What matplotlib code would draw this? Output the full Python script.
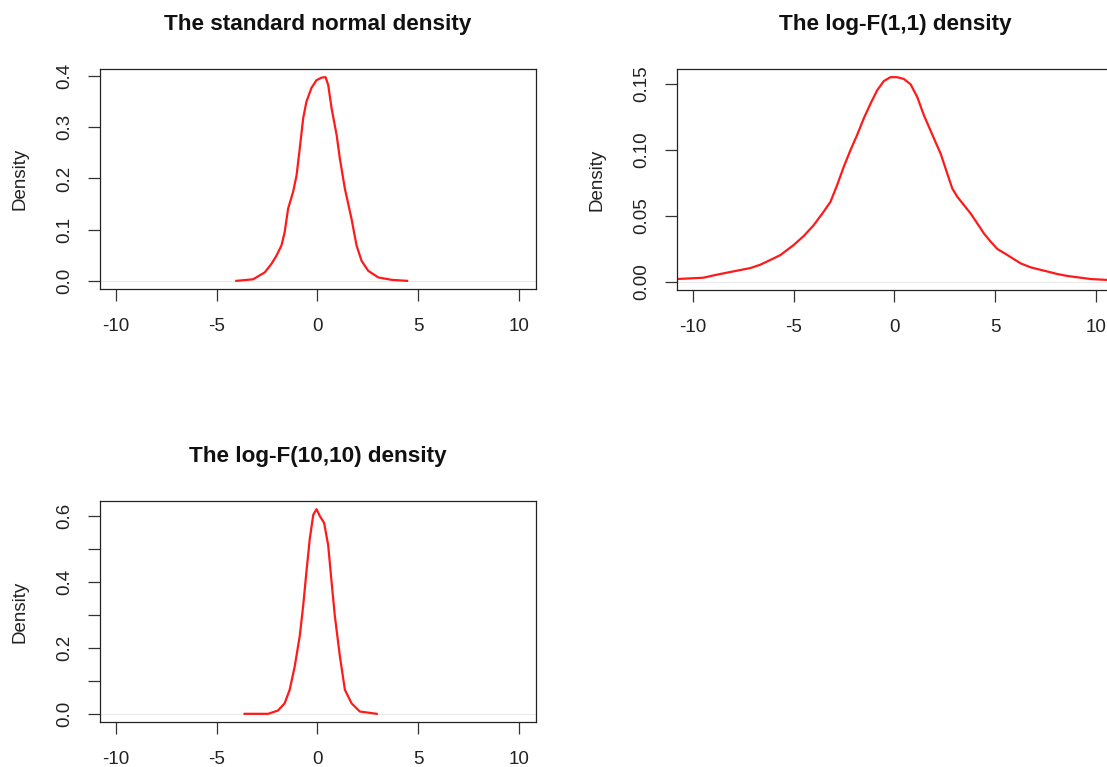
import matplotlib
matplotlib.use("Agg")
import matplotlib.pyplot as plt

plt.rcParams["font.family"] = ["Liberation Sans", "DejaVu Sans"]

# curves (x, density)
norm_x = [-4.03, -3.2, -2.62, -2.29, -2.04, -1.79, -1.63, -1.46, -1.21, -1.04,
          -0.88, -0.71, -0.55, -0.30, -0.05, 0.2, 0.4, 0.53, 0.70, 0.95,
          1.11, 1.36, 1.69, 1.94, 2.19, 2.52, 3.02, 3.68, 4.45]
norm_y = [0.0, 0.003, 0.0165, 0.033, 0.049, 0.069, 0.095, 0.141, 0.174, 0.206,
          0.259, 0.318, 0.350, 0.377, 0.392, 0.397, 0.398, 0.383, 0.337, 0.285,
          0.239, 0.180, 0.121, 0.069, 0.039, 0.0196, 0.0067, 0.002, 0.0]

logf1_x = [-10.81, -10.15, -9.49, -8.91, -8.33, -7.66, -7.16, -6.67, -6.17, -5.67,
           -5.01, -4.51, -4.01, -3.52, -3.18, -2.85, -2.52, -2.19, -1.86, -1.53,
           -1.19, -0.86, -0.53, -0.20, 0.13, 0.46, 0.80, 1.13, 1.46, 1.96,
           2.29, 2.62, 2.87, 3.12, 3.45, 3.78, 4.11, 4.44, 4.78, 5.11,
           5.61, 6.27, 6.77, 7.43, 8.09, 8.59, 9.25, 9.75, 10.6, 10.9]
logf1_y = [0.0021, 0.0026, 0.0031, 0.0051, 0.0069, 0.0089, 0.0104, 0.0129, 0.0165, 0.0202,
           0.0278, 0.0346, 0.0429, 0.053, 0.0605, 0.0731, 0.087, 0.0995, 0.1109, 0.1235,
           0.1348, 0.1449, 0.1519, 0.1548, 0.1548, 0.1535, 0.1494, 0.1398, 0.126, 0.1084,
           0.097, 0.0819, 0.0706, 0.0643, 0.058, 0.0517, 0.0442, 0.0366, 0.0303, 0.0248,
           0.0202, 0.0139, 0.0109, 0.0084, 0.0059, 0.0044, 0.0031, 0.0021, 0.0014, 0.0013]

logf10_x = [-3.62, -2.45, -1.96, -1.63, -1.38, -1.13, -0.88, -0.71, -0.55, -0.38,
            -0.21, -0.05, 0.11, 0.33, 0.53, 0.70, 0.86, 1.11, 1.36, 1.69,
            2.10, 2.94]
logf10_y = [0.0, 0.0, 0.01, 0.032, 0.073, 0.144, 0.236, 0.328, 0.43, 0.532,
            0.603, 0.62, 0.60, 0.578, 0.511, 0.399, 0.297, 0.175, 0.073, 0.032,
            0.007, 0.0]

x_ticks = [-10, -5, 0, 5, 10]
x_labels = ["-10", "-5", "0", "5", "10"]

norm_ticks = [0.0, 0.1, 0.2, 0.3, 0.4]
norm_labels = ["0.0", "0.1", "0.2", "0.3", "0.4"]
logf1_ticks = [0.0, 0.05, 0.10, 0.15]
logf1_labels = ["0.00", "0.05", "0.10", "0.15"]
logf10_ticks = [0.0, 0.1, 0.2, 0.3, 0.4, 0.5, 0.6]
logf10_labels = ["0.0", "", "0.2", "", "0.4", "", "0.6"]

W, H = 1107, 767
fig = plt.figure(figsize=(W / 100, H / 100), dpi=100)


def box(left, top, right, bottom):
    return [left / W, 1 - bottom / H, (right - left) / W, (bottom - top) / H]


def density_panel(rect, x, y, title, yticks, ylabels):
    ax = fig.add_axes(rect)
    ax.axhline(0, color="#e4e4e4", lw=0.6, zorder=1)
    ax.plot(x, y, color="#ff1a1a", lw=1.6, zorder=2)

    ymax = max(y)
    ax.set_xlim(-10.8, 10.85)
    ax.set_ylim(-0.04 * ymax, 1.04 * ymax)

    ax.set_xticks(x_ticks)
    ax.set_xticklabels(x_labels)
    ax.set_yticks(yticks)
    ax.set_yticklabels(ylabels, rotation=90, va="center")
    ax.tick_params(axis="both", direction="out", length=8.5, width=0.9,
                   color="#333333", labelsize=13.5, labelcolor="#222222")
    ax.tick_params(axis="x", pad=12.5)
    ax.tick_params(axis="y", pad=11)

    for s in ax.spines.values():
        s.set_linewidth(0.9)
        s.set_color("#222222")

    ax.set_ylabel("Density", fontsize=13.5, color="#222222")
    ax.yaxis.set_label_coords(-0.163, 0.5)
    ax.set_title(title, fontsize=16.2, fontweight="bold", pad=28, color="#111111")
    return ax


density_panel(box(100, 69, 536, 289), norm_x, norm_y,
              "The standard normal density", norm_ticks, norm_labels)
density_panel(box(677, 69, 1113, 290), logf1_x, logf1_y,
              "The log-F(1,1) density", logf1_ticks, logf1_labels)
density_panel(box(100, 501, 536, 722), logf10_x, logf10_y,
              "The log-F(10,10) density", logf10_ticks, logf10_labels)

fig.savefig("out.png", dpi=100)
